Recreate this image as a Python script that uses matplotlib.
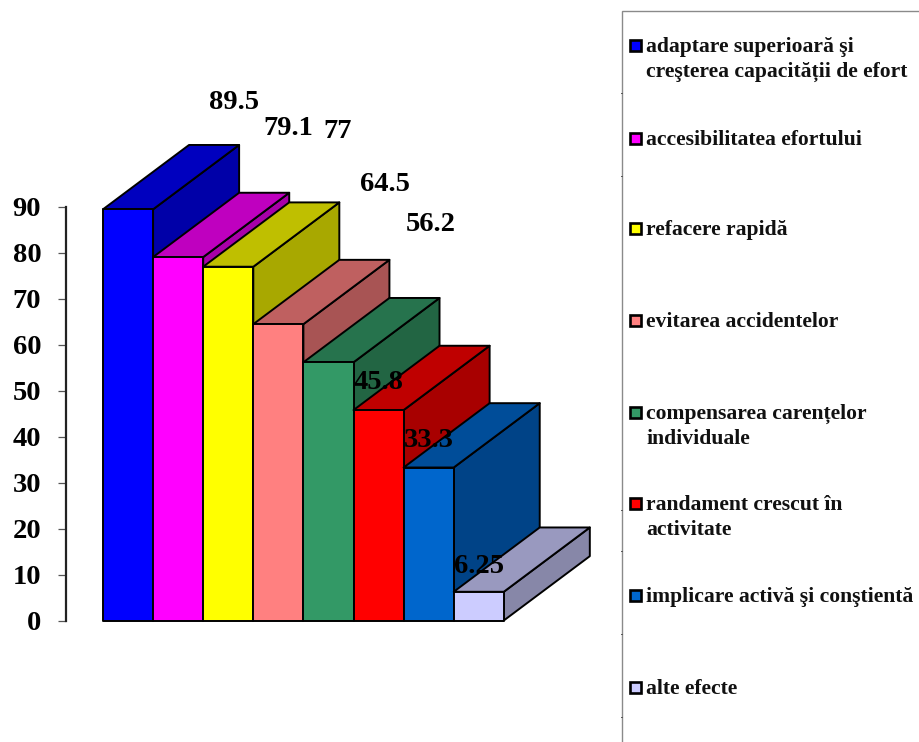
import matplotlib
matplotlib.use("Agg")
import matplotlib.pyplot as plt
from matplotlib.patches import Polygon, Rectangle
from matplotlib.colors import to_rgb

plt.rcParams['font.family'] = ['Liberation Serif', 'DejaVu Serif']
plt.rcParams['font.weight'] = 'bold'

W, H = 920, 742

values = [89.5, 79.1, 77, 64.5, 56.2, 45.8, 33.3, 6.25]
value_labels = ['89.5', '79.1', '77', '64.5', '56.2', '45.8', '33.3', '6.25']
colors = ['#0000FF', '#FF00FF', '#FFFF00', '#FF8080', '#339966', '#FF0000', '#0066CC', '#CCCCFF']
legend_labels = [
    'adaptare superioară şi\ncreşterea capacității de efort',
    'accesibilitatea efortului',
    'refacere rapidă',
    'evitarea accidentelor',
    'compensarea carențelor\nindividuale',
    'randament crescut în\nactivitate',
    'implicare activă şi conştientă',
    'alte efecte',
]
y_ticks = [0, 10, 20, 30, 40, 50, 60, 70, 80, 90]

# label offsets from the top centre of each bar, in pixels
label_offsets = [(106, 107), (110, 129), (109, 135), (107, 140), (102, 138), (0, 28), (0, 27), (0, 25)]
legend_y = [45, 138, 228, 320, 412, 503, 595, 687]

# 3D look: every box is extruded backwards by this much (bar widths, value units)
DEPTH_X = 1.717
DEPTH_Y = 14.0
TOP_SHADE = 0.75
SIDE_SHADE = 0.66


def shade(color, k):
    return tuple(c * k for c in to_rgb(color))


def px_rect(x0, y_top, x1, y_bottom):
    # axes rectangle from pixel coordinates measured from the top left
    return [x0 / W, 1 - y_bottom / H, (x1 - x0) / W, (y_bottom - y_top) / H]


fig = plt.figure(figsize=(W / 100, H / 100), dpi=100)

# value axis: x in bar widths, first bar starts at x=0
bar_w = 50.1
ax = fig.add_axes(px_rect(65.5, 207, 610, 620.5))
ax.set_xlim(-(103 - 65.5) / bar_w, (610 - 103) / bar_w)
ax.set_ylim(0, 90)
ax.patch.set_visible(False)

for i, (v, c) in enumerate(zip(values, colors)):
    side = [(i + 1, 0), (i + 1 + DEPTH_X, DEPTH_Y), (i + 1 + DEPTH_X, v + DEPTH_Y), (i + 1, v)]
    top = [(i, v), (i + DEPTH_X, v + DEPTH_Y), (i + 1 + DEPTH_X, v + DEPTH_Y), (i + 1, v)]
    front = [(i, 0), (i, v), (i + 1, v), (i + 1, 0)]
    for pts, col in ((side, shade(c, SIDE_SHADE)), (top, shade(c, TOP_SHADE)), (front, to_rgb(c))):
        ax.add_patch(Polygon(pts, closed=True, facecolor=col, edgecolor='black',
                             linewidth=1.4, joinstyle='round', clip_on=False))

for i, (v, txt, off) in enumerate(zip(values, value_labels, label_offsets)):
    ax.annotate(txt, xy=(i + 0.5, v), xytext=off, textcoords='offset pixels',
                ha='center', va='center', fontsize=20.5, color='black', annotation_clip=False)

for name in ('top', 'right', 'bottom'):
    ax.spines[name].set_visible(False)
ax.spines['left'].set_linewidth(1.6)
ax.spines['left'].set_color('#222222')
ax.set_xticks([])
ax.set_yticks(y_ticks)
ax.set_yticks([t / 2 for t in range(0, 181, 5)], minor=True)
ax.tick_params(axis='y', which='major', length=6, width=0.9, color='#555555',
               labelsize=20.5, pad=11.5)
ax.tick_params(axis='y', which='minor', length=1, width=0.6, color='#555555')

# legend panel, open on the right and at the bottom
leg = fig.add_axes([0, 0, 1, 1])
leg.set_xlim(0, W)
leg.set_ylim(H, 0)
leg.axis('off')
leg.patch.set_visible(False)
leg.plot([W, 622.5, 622.5], [11, 11, H], color='#8a8a8a', linewidth=1.0, solid_joinstyle='miter')
for y in (93, 176, 510, 551, 634, 717):
    leg.plot([621, 622.5], [y, y], color='#555555', linewidth=0.7)

for y, txt, c in zip(legend_y, legend_labels, colors):
    leg.add_patch(Rectangle((630, y - 5), 11, 11, facecolor=c, edgecolor='black', linewidth=1.9))
    leg.text(646, y - 8, txt, fontsize=15.6, color='#111111', ha='left', va='top',
             linespacing=1.33)

fig.savefig('out.png', dpi=100, facecolor='white')
